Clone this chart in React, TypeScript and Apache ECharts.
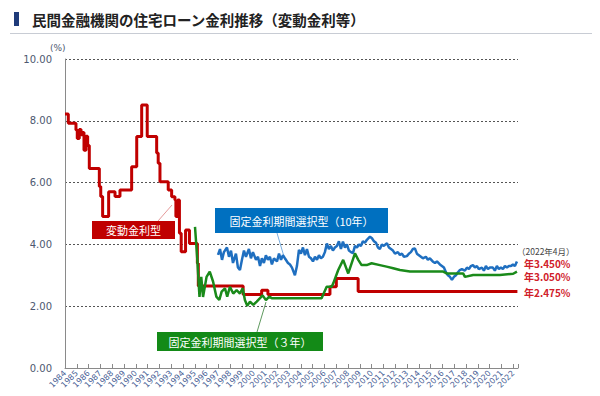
import React, { useEffect, useRef } from "react";
import * as echarts from "echarts";

// 変動金利型 (step changes: [year, rate])
const variableRate: [number, number][] = [
  [1984.0, 8.22], [1984.28, 7.92], [1984.93, 7.7], [1985.04, 7.43], [1985.21, 7.72],
  [1985.36, 7.55], [1985.5, 7.62], [1985.61, 7.05], [1985.78, 7.5], [1985.92, 7.2],
  [1986.06, 6.46], [1986.91, 5.87], [1987.03, 5.55], [1987.19, 4.9], [1987.7, 5.7],
  [1988.24, 5.55], [1988.66, 5.76], [1989.65, 6.51], [1990.08, 7.49], [1990.5, 8.51],
  [1990.97, 7.49], [1991.77, 6.96], [1991.9, 6.63], [1992.05, 6.03], [1992.75, 5.76],
  [1993.04, 5.54], [1993.32, 5.44], [1993.4, 4.9], [1993.55, 5.44], [1993.7, 4.36],
  [1993.85, 3.76], [1994.22, 4.47], [1994.55, 4.03], [1995.22, 3.39], [1995.3, 2.65],
  [1999.1, 2.38], [2000.67, 2.52], [2001.2, 2.38], [2006.46, 2.63], [2007.0, 2.9],
  [2008.85, 2.475], [2022.35, 2.475],
];

// 固定金利期間選択型（10年）
const fixed10: [number, number][] = [
  [1996.97, 3.66], [1997.14, 3.85], [1997.31, 3.5], [1997.47, 3.75], [1997.73, 3.9], [1997.9, 3.6],
  [1998.07, 3.8], [1998.24, 3.4], [1998.49, 3.7], [1998.66, 3.25], [1998.83, 3.17], [1999.0, 3.5],
  [1999.17, 3.8], [1999.34, 3.6], [1999.59, 3.85], [1999.76, 3.55], [1999.93, 3.75], [2000.19, 3.5],
  [2000.36, 3.6], [2000.53, 3.3], [2000.69, 3.55], [2000.86, 3.4], [2001.03, 3.65], [2001.2, 3.5],
  [2001.37, 3.6], [2001.54, 3.35], [2001.71, 3.55], [2001.97, 3.45], [2002.14, 3.7], [2002.31, 3.5],
  [2002.47, 3.65], [2002.64, 3.55], [2002.9, 3.4], [2003.07, 3.35], [2003.24, 3.25], [2003.49, 3.0],
  [2003.66, 3.3], [2003.83, 3.82], [2004.0, 3.7], [2004.17, 3.9], [2004.34, 3.65], [2004.51, 3.85],
  [2004.68, 3.6], [2004.85, 3.55], [2005.02, 3.45], [2005.19, 3.6], [2005.36, 3.5], [2005.53, 3.65],
  [2005.69, 3.55], [2005.86, 3.6], [2006.03, 3.75], [2006.2, 4.03], [2006.37, 3.85], [2006.54, 3.95],
  [2006.71, 3.8], [2006.88, 3.9], [2007.05, 3.95], [2007.22, 4.1], [2007.39, 3.85], [2007.56, 4.09],
  [2007.73, 3.9], [2007.9, 4.0], [2008.07, 3.8], [2008.24, 3.75], [2008.41, 3.72], [2008.58, 3.95],
  [2008.75, 3.9], [2008.92, 4.0], [2009.08, 3.95], [2009.25, 4.1], [2009.42, 4.05], [2009.59, 4.15],
  [2009.85, 4.25], [2010.02, 4.2], [2010.19, 4.1], [2010.36, 4.05], [2010.53, 3.9], [2010.69, 3.85],
  [2010.86, 4.0], [2011.03, 3.95], [2011.29, 4.04], [2011.46, 3.9], [2011.63, 3.85], [2011.8, 3.8],
  [2011.97, 3.7], [2012.22, 3.75], [2012.39, 3.66], [2012.56, 3.7], [2012.73, 3.6], [2012.98, 3.62],
  [2013.15, 3.7], [2013.32, 3.75], [2013.49, 3.85], [2013.66, 3.87], [2013.83, 3.7], [2014.0, 3.65],
  [2014.17, 3.6], [2014.34, 3.55], [2014.59, 3.6], [2014.76, 3.5], [2014.93, 3.55], [2015.19, 3.44],
  [2015.36, 3.4], [2015.53, 3.45], [2015.78, 3.35], [2015.95, 3.3], [2016.12, 3.25], [2016.29, 3.1],
  [2016.46, 3.0], [2016.63, 2.95], [2016.8, 2.85], [2016.97, 2.95], [2017.14, 3.0], [2017.31, 3.1],
  [2017.47, 3.17], [2017.64, 3.2], [2017.9, 3.15], [2018.07, 3.25], [2018.24, 3.2], [2018.41, 3.3],
  [2018.58, 3.33], [2018.75, 3.25], [2018.92, 3.3], [2019.08, 3.2], [2019.34, 3.25], [2019.51, 3.15],
  [2019.68, 3.3], [2019.85, 3.2], [2020.02, 3.25], [2020.27, 3.25], [2020.44, 3.15], [2020.61, 3.3],
  [2020.78, 3.2], [2020.95, 3.25], [2021.12, 3.2], [2021.29, 3.3], [2021.46, 3.25], [2021.63, 3.3],
  [2021.8, 3.3], [2021.97, 3.35], [2022.14, 3.3], [2022.31, 3.45],
];

// 固定金利期間選択型（３年）
const fixed3: [number, number][] = [
  [1995.02, 4.57], [1995.2, 3.6], [1995.4, 2.3], [1995.55, 2.95], [1995.7, 2.3], [1996.0, 2.95],
  [1996.27, 3.12], [1996.55, 2.8], [1996.83, 2.31], [1997.08, 2.2], [1997.28, 2.47], [1997.56, 2.58],
  [1997.75, 2.31], [1997.98, 2.63], [1998.26, 2.41], [1998.55, 2.52], [1998.83, 2.41], [1999.06, 2.58],
  [1999.25, 2.2], [1999.45, 2.01], [1999.68, 2.15], [1999.96, 2.04], [2000.25, 2.15], [2000.53, 2.26],
  [2000.75, 2.35], [2001.03, 2.2], [2001.31, 2.31], [2001.52, 2.26], [2005.75, 2.26], [2006.18, 2.63],
  [2006.6, 2.63], [2006.74, 2.74], [2007.16, 3.17], [2007.58, 3.5], [2008.01, 3.06], [2008.58, 3.71],
  [2008.86, 3.5], [2009.14, 3.33], [2009.57, 3.33], [2009.99, 3.39], [2010.69, 3.33], [2011.26, 3.28],
  [2011.82, 3.23], [2012.39, 3.17], [2013.24, 3.12], [2016.06, 3.12], [2016.35, 3.06], [2017.75, 3.06],
  [2017.9, 2.95], [2018.6, 3.01], [2020.86, 3.01], [2021.99, 3.05], [2022.31, 3.12],
];

const yTicks = [0, 2, 4, 6, 8, 10];
const latestLabels = ["（2022年4月）", "年3.450%", "年3.050%", "年2.475%"];
const title = "民間金融機関の住宅ローン金利推移（変動金利等）";

const JP = "'Noto Sans CJK JP', 'Noto Sans', sans-serif";

export default function App() {
  const ref = useRef<HTMLDivElement>(null);
  useEffect(() => {
    if (!ref.current) return;
    const chart = echarts.init(ref.current, null, { renderer: "svg" });
    chart.setOption({
      animation: false,
      backgroundColor: "#ffffff",
      grid: { left: 65, right: 82, top: 59, bottom: 28, containLabel: false },
      xAxis: {
        type: "value",
        min: 1984,
        max: 2022.4,
        interval: 1,
        axisLine: { show: true, lineStyle: { color: "#8a8a8a", width: 1 } },
        axisTick: { show: true, inside: true, length: 4, lineStyle: { color: "#8a8a8a" } },
        splitLine: { show: false },
        axisLabel: {
          rotate: 45,
          margin: 4,
          fontSize: 8,
          color: "#4a5f96",
          fontFamily: "'DejaVu Sans', sans-serif",
          formatter: (v: number) => (Number.isInteger(v) ? String(v) : ""),
        },
      },
      yAxis: {
        type: "value",
        min: yTicks[0],
        max: yTicks[yTicks.length - 1],
        interval: 2,
        axisLine: { show: true, lineStyle: { color: "#8a8a8a", width: 1 } },
        axisTick: { show: false },
        splitLine: { show: true, lineStyle: { color: "#555", type: [2, 2], width: 1 } },
        axisLabel: {
          margin: 13,
          fontSize: 10,
          color: "#4d5870",
          fontFamily: "'DejaVu Sans', sans-serif",
          formatter: (v: number) => v.toFixed(2),
        },
      },
      series: [
        {
          name: "変動金利型",
          type: "line",
          step: "end",
          data: variableRate,
          showSymbol: false,
          lineStyle: { color: "#c00000", width: 3 },
          z: 3,
        },
        {
          name: "固定金利期間選択型（10年）",
          type: "line",
          data: fixed10,
          showSymbol: false,
          lineStyle: { color: "#1f6fc0", width: 2.5 },
          z: 4,
        },
        {
          name: "固定金利期間選択型（３年）",
          type: "line",
          data: fixed3,
          showSymbol: false,
          lineStyle: { color: "#1a8a1a", width: 2.5 },
          z: 5,
        },
      ],
      graphic: [
        { type: "rect", shape: { x: 14, y: 12, width: 5, height: 14 }, style: { fill: "#1f3b7a" } },
        {
          type: "text", x: 32, y: 19,
          style: { text: title, fontSize: 14.5, fontWeight: "bold", fill: "#222", fontFamily: JP, verticalAlign: "middle" },
        },
        { type: "line", shape: { x1: 10, y1: 33.5, x2: 592, y2: 33.5 }, style: { stroke: "#c8ccd4", lineWidth: 1 } },
        {
          type: "text", x: 50, y: 43,
          style: { text: "(%)", fontSize: 9, fill: "#4d5870", fontFamily: "'DejaVu Sans', sans-serif" },
        },
        // 変動金利型 label
        { type: "line", shape: { x1: 158, y1: 221, x2: 172, y2: 205 }, style: { stroke: "#e59a9a", lineWidth: 1 } },
        { type: "rect", shape: { x: 92, y: 221, width: 83, height: 18 }, style: { fill: "#c00000" } },
        {
          type: "text", x: 133.5, y: 230,
          style: { text: "変動金利型", fontSize: 11, fill: "#fff", fontFamily: JP, align: "center", verticalAlign: "middle" },
        },
        // 10年 label
        { type: "line", shape: { x1: 277, y1: 233, x2: 285, y2: 260 }, style: { stroke: "#7aaee0", lineWidth: 1 } },
        { type: "rect", shape: { x: 215, y: 208, width: 173, height: 25 }, style: { fill: "#0070c0" } },
        {
          type: "text", x: 301.5, y: 220.5,
          style: { text: "固定金利期間選択型（10年）", fontSize: 11, fill: "#fff", fontFamily: JP, align: "center", verticalAlign: "middle" },
        },
        // 3年 label
        { type: "line", shape: { x1: 257, y1: 332, x2: 266, y2: 302 }, style: { stroke: "#5f9a5f", lineWidth: 1 } },
        { type: "rect", shape: { x: 157, y: 332, width: 166, height: 19 }, style: { fill: "#138a17" } },
        {
          type: "text", x: 240, y: 341.5,
          style: { text: "固定金利期間選択型（３年）", fontSize: 11, fill: "#fff", fontFamily: JP, align: "center", verticalAlign: "middle" },
        },
        // latest values
        {
          type: "text", x: 517, y: 251,
          style: { text: latestLabels[0], fontSize: 8.5, lineHeight: 9, fill: "#444", fontFamily: JP, verticalAlign: "middle" },
        },
        {
          type: "text", x: 524, y: 263,
          style: { text: latestLabels[1], fontSize: 10, lineHeight: 10, fontWeight: "bold", fill: "#d0202a", fontFamily: JP, verticalAlign: "middle" },
        },
        {
          type: "text", x: 524, y: 276.5,
          style: { text: latestLabels[2], fontSize: 10, lineHeight: 10, fontWeight: "bold", fill: "#d0202a", fontFamily: JP, verticalAlign: "middle" },
        },
        {
          type: "text", x: 524, y: 292,
          style: { text: latestLabels[3], fontSize: 10, lineHeight: 10, fontWeight: "bold", fill: "#d0202a", fontFamily: JP, verticalAlign: "middle" },
        },
      ],
    });
    return () => chart.dispose();
  }, []);
  return <div ref={ref} style={{ position: "fixed", left: 0, top: 0, width: 600, height: 396 }} />;
}
